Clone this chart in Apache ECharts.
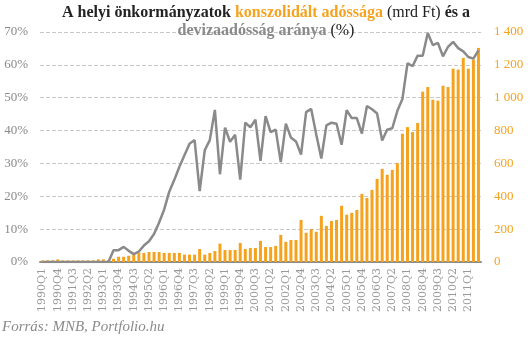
<!DOCTYPE html>
<html>
<head>
<meta charset="utf-8">
<script src="https://cdn.jsdelivr.net/npm/echarts@6/dist/echarts.min.js"></script>
<style>html,body{margin:0;padding:0;background:#fff}#c{width:529px;height:340px}</style>
</head>
<body>
<div id="c"></div>
<script>
// Categories: quarters 1990Q1 .. 2011Q3
const categories = [];
for (let y = 1990; y <= 2011; y++) {
  for (let q = 1; q <= 4; q++) {
    if (y === 2011 && q > 3) break;
    categories.push(y + 'Q' + q);
  }
}
// Consolidated debt (mrd Ft) - right axis
const debtValues = [
  10,10,10,16,10,10,10,10,10,10,10,16,16,12,
  20,32,32,38,47,58,55,61,61,61,55,55,55,55,
  45,45,45,79,45,55,67,112,73,73,73,116,79,85,
  85,129,91,91,98,165,123,134,134,256,178,201,184,281,
  220,250,256,342,288,299,317,415,390,439,506,567,531,561,
  602,781,821,791,846,1037,1065,988,982,1073,1065,1177,1171,1242,
  1177,1232,1303
];
// Foreign-currency share of debt (%) - left axis
const fxShare = [
  0,0,0,0,0,0,0,0,0,0,0,0,0,0,
  3.6,3.6,4.6,3.4,2.4,3.2,5.0,6.3,8.5,12.0,16.0,21.4,25.0,29.0,
  32.5,36.0,37.1,21.6,34.0,37.1,46.3,26.7,40.9,36.6,38.7,25.1,42.4,41.0,
  43.3,30.8,44.4,39.5,40.3,30.4,42.1,37.9,36.7,32.7,45.6,46.6,38.8,31.5,
  41.6,42.4,42.1,35.7,46.2,43.8,43.8,39.1,47.5,46.5,45.2,37.0,40.3,40.7,
  46.0,49.6,60.5,59.6,62.8,62.8,69.7,66.0,66.7,62.6,65.5,67.0,65.1,64.1,
  62.4,61.9,64.4
];
const leftTicks = [0, 70, 10];
const rightTicks = [0, 1400, 200];

const ORANGE = '#F5A31E';
const GRAY = '#8a8a8a';
const FONT = 'Liberation Serif';

const chart = echarts.init(document.getElementById('c'), null, {renderer: 'canvas'});
chart.setOption({
  animation: false,
  textStyle: {fontFamily: FONT},
  title: {
    left: 261, top: -1, textAlign: 'center',
    text: '{d|A helyi önkormányzatok }{o|konszolidált adóssága }{n|(mrd Ft) }{d|és a}\n{g|devizaadósság aránya }{n|(%)}',
    textStyle: {
      lineHeight: 18,
      rich: {
        d: {fontFamily: FONT, fontWeight: 'bold', fontSize: 16, color: '#222'},
        o: {fontFamily: FONT, fontWeight: 'bold', fontSize: 16, color: ORANGE},
        n: {fontFamily: FONT, fontWeight: 'normal', fontSize: 16, color: '#222'},
        g: {fontFamily: FONT, fontWeight: 'bold', fontSize: 16, color: GRAY}
      }
    }
  },
  grid: {left: 40, right: 48, top: 32, bottom: 78},
  xAxis: {
    type: 'category',
    data: categories,
    axisLine: {lineStyle: {color: '#8c8c8c', width: 2}},
    axisTick: {show: false},
    axisLabel: {interval: 2, rotate: 90, color: '#999', fontSize: 11, margin: 6, fontFamily: 'DejaVu Serif'}
  },
  yAxis: [
    {
      type: 'value', min: leftTicks[0], max: leftTicks[1], interval: leftTicks[2],
      axisLine: {show: false}, axisTick: {show: false},
      axisLabel: {formatter: '{value}%', color: GRAY, fontSize: 13, margin: 12, fontFamily: FONT},
      splitLine: {lineStyle: {color: '#c8c8c8', type: 'dashed', width: 1}}
    },
    {
      type: 'value', min: rightTicks[0], max: rightTicks[1], interval: rightTicks[2],
      axisLine: {show: false}, axisTick: {show: false},
      axisLabel: {
        color: ORANGE, fontSize: 13, margin: 13, fontFamily: FONT,
        formatter: v => String(v).replace(/\B(?=(\d{3})+(?!\d))/g, ' ')
      },
      splitLine: {show: false}
    }
  ],
  series: [
    {
      type: 'bar', yAxisIndex: 1, data: debtValues, barWidth: 3,
      itemStyle: {color: ORANGE}, z: 2
    },
    {
      type: 'line', yAxisIndex: 0, data: fxShare, symbol: 'none',
      lineStyle: {color: GRAY, width: 2.5}, z: 3
    }
  ],
  graphic: [{
    type: 'text', left: 2, top: 320,
    style: {text: 'Forrás: MNB, Portfolio.hu', fill: '#8a8a8a', font: 'italic 15px "Liberation Serif"'}
  }]
});
</script>
</body>
</html>
